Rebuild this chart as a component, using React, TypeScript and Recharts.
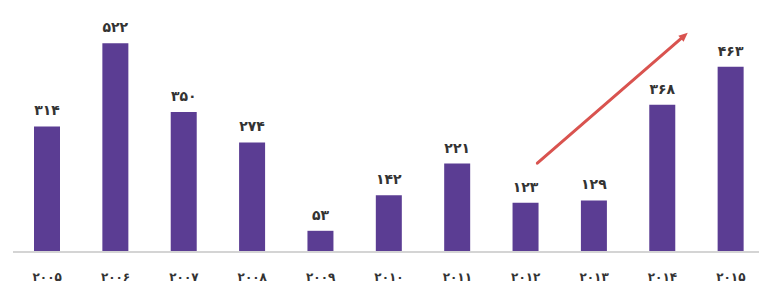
import React from "react";
import {
  BarChart,
  Bar,
  XAxis,
  YAxis,
  LabelList,
  ReferenceLine,
} from "recharts";

const years = ["۲۰۰۵", "۲۰۰۶", "۲۰۰۷", "۲۰۰۸", "۲۰۰۹", "۲۰۱۰", "۲۰۱۱", "۲۰۱۲", "۲۰۱۳", "۲۰۱۴", "۲۰۱۵"];
const counts = [314, 522, 350, 274, 53, 142, 221, 123, 129, 368, 463];

// trend arrow, in (bar index, value) units
const arrowPoints = [
  { x: 7.17, y: 222 },
  { x: 9.37, y: 548 },
];

const data = years.map((year, i) => ({ year, count: counts[i] }));

const faDigits = "۰۱۲۳۴۵۶۷۸۹";
const toFa = (v: number | string) =>
  String(v).replace(/[0-9]/g, (d) => faDigits[Number(d)]);

const ArrowShape = (props: any) => {
  const { x1, y1, x2, y2 } = props;
  if ([x1, y1, x2, y2].some((v) => v == null || isNaN(v))) return null;
  const ang = Math.atan2(y2 - y1, x2 - x1);
  const len = 9;
  const w = 4;
  const bx = x2 - len * Math.cos(ang);
  const by = y2 - len * Math.sin(ang);
  const px = -Math.sin(ang) * w;
  const py = Math.cos(ang) * w;
  return (
    <g>
      <line x1={x1} y1={y1} x2={bx} y2={by} stroke="#d9534f" strokeWidth={3} strokeLinecap="round" />
      <polygon
        points={`${x2},${y2} ${bx + px},${by + py} ${bx - px},${by - py}`}
        fill="#d9534f"
      />
    </g>
  );
};

// half a category band, so index 0..10 lands on bar centres
const halfBand = 752 / 11 / 2;

export default function App() {
  return (
    <div
      style={{
        position: "absolute",
        left: 0,
        top: 0,
        width: 759,
        height: 285,
        overflow: "hidden",
        background: "#fff",
        fontFamily: "'DejaVu Sans', sans-serif",
      }}
    >
      <BarChart
        width={770}
        height={285}
        data={data}
        margin={{ top: 12, right: 5, left: 13, bottom: 3 }}
        barCategoryGap={21}
      >
        <XAxis
          dataKey="year"
          height={30}
          axisLine={{ stroke: "#d4d4d4", strokeWidth: 2 }}
          tickLine={false}
          tickMargin={14}
          interval={0}
          tick={{ fill: "#333", fontSize: 12, fontWeight: "bold" }}
        />
        <XAxis
          xAxisId="arrow"
          type="number"
          domain={[0, 10]}
          allowDataOverflow
          padding={{ left: halfBand, right: halfBand }}
          height={0}
          hide
        />
        <YAxis hide domain={[0, 600]} />
        <Bar dataKey="count" fill="#5b3d93" isAnimationActive={false}>
          <LabelList
            dataKey="count"
            position="top"
            offset={11}
            formatter={(v: any) => toFa(v)}
            style={{ fill: "#333", fontSize: 14, fontWeight: "bold" }}
          />
        </Bar>
        <ReferenceLine
          xAxisId="arrow"
          segment={arrowPoints}
          ifOverflow="visible"
          shape={ArrowShape}
        />
      </BarChart>
    </div>
  );
}
